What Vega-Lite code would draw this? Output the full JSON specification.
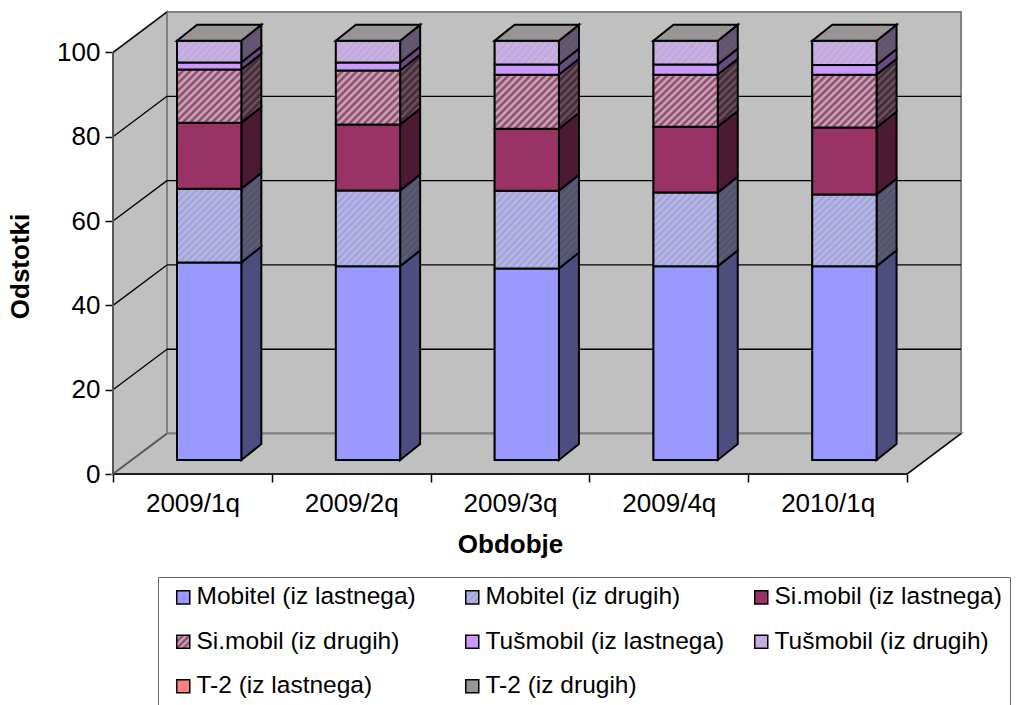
{
"$schema":"https://vega.github.io/schema/vega-lite/v6.json",
"width":849,"height":462,
"autosize":{"type":"none"},
"padding":{"left":113,"top":12,"right":59,"bottom":231},
"background":"white",
"config":{"font":"Liberation Sans","view":{"stroke":null}},
"params":[
{"name":"g","value":"#c0c0c0"},{"name":"h","value":"#606060"},
{"name":"c1","value":"#9999ff"},{"name":"c2","value":"#993366"},{"name":"c3","value":"#cc99ff"},
{"name":"d1","value":"#4d4d80"},{"name":"d2","value":"#4d1a33"},{"name":"d3","value":"#664d80"},
{"name":"rFront","expr":"[c1,{gradient:'linear',x1:0,y1:0,x2:.92,y2:1.07,stops:[{offset:0,color:c1},{offset:.025,color:g},{offset:.05,color:c1},{offset:.075,color:g},{offset:.1,color:c1},{offset:.125,color:g},{offset:.15,color:c1},{offset:.175,color:g},{offset:.2,color:c1},{offset:.225,color:g},{offset:.25,color:c1},{offset:.275,color:g},{offset:.3,color:c1},{offset:.325,color:g},{offset:.35,color:c1},{offset:.375,color:g},{offset:.4,color:c1},{offset:.425,color:g},{offset:.45,color:c1},{offset:.475,color:g},{offset:.5,color:c1},{offset:.525,color:g},{offset:.55,color:c1},{offset:.575,color:g},{offset:.6,color:c1},{offset:.625,color:g},{offset:.65,color:c1},{offset:.675,color:g},{offset:.7,color:c1},{offset:.725,color:g},{offset:.75,color:c1},{offset:.775,color:g},{offset:.8,color:c1},{offset:.825,color:g},{offset:.85,color:c1},{offset:.875,color:g},{offset:.9,color:c1},{offset:.925,color:g},{offset:.95,color:c1},{offset:.975,color:g},{offset:1,color:c1}]},c2,{gradient:'linear',x1:0,y1:0,x2:1.08,y2:.9,stops:[{offset:0,color:c2},{offset:.03125,color:g},{offset:.0625,color:c2},{offset:.09375,color:g},{offset:.125,color:c2},{offset:.15625,color:g},{offset:.1875,color:c2},{offset:.21875,color:g},{offset:.25,color:c2},{offset:.28125,color:g},{offset:.3125,color:c2},{offset:.34375,color:g},{offset:.375,color:c2},{offset:.40625,color:g},{offset:.4375,color:c2},{offset:.46875,color:g},{offset:.5,color:c2},{offset:.53125,color:g},{offset:.5625,color:c2},{offset:.59375,color:g},{offset:.625,color:c2},{offset:.65625,color:g},{offset:.6875,color:c2},{offset:.71875,color:g},{offset:.75,color:c2},{offset:.78125,color:g},{offset:.8125,color:c2},{offset:.84375,color:g},{offset:.875,color:c2},{offset:.90625,color:g},{offset:.9375,color:c2},{offset:.96875,color:g},{offset:1,color:c2}]},c3,{gradient:'linear',x1:0,y1:0,x2:1.2,y2:.41,stops:[{offset:0,color:c3},{offset:.04167,color:g},{offset:.08333,color:c3},{offset:.125,color:g},{offset:.16667,color:c3},{offset:.20833,color:g},{offset:.25,color:c3},{offset:.29167,color:g},{offset:.33333,color:c3},{offset:.375,color:g},{offset:.41667,color:c3},{offset:.45833,color:g},{offset:.5,color:c3},{offset:.54167,color:g},{offset:.58333,color:c3},{offset:.625,color:g},{offset:.66667,color:c3},{offset:.70833,color:g},{offset:.75,color:c3},{offset:.79167,color:g},{offset:.83333,color:c3},{offset:.875,color:g},{offset:.91667,color:c3},{offset:.95833,color:g},{offset:1,color:c3}]},'#ff8080','#969696']"},
{"name":"rSide","expr":"[d1,{gradient:'linear',x1:0,y1:0,x2:.26,y2:1.16,stops:[{offset:0,color:d1},{offset:.03125,color:h},{offset:.0625,color:d1},{offset:.09375,color:h},{offset:.125,color:d1},{offset:.15625,color:h},{offset:.1875,color:d1},{offset:.21875,color:h},{offset:.25,color:d1},{offset:.28125,color:h},{offset:.3125,color:d1},{offset:.34375,color:h},{offset:.375,color:d1},{offset:.40625,color:h},{offset:.4375,color:d1},{offset:.46875,color:h},{offset:.5,color:d1},{offset:.53125,color:h},{offset:.5625,color:d1},{offset:.59375,color:h},{offset:.625,color:d1},{offset:.65625,color:h},{offset:.6875,color:d1},{offset:.71875,color:h},{offset:.75,color:d1},{offset:.78125,color:h},{offset:.8125,color:d1},{offset:.84375,color:h},{offset:.875,color:d1},{offset:.90625,color:h},{offset:.9375,color:d1},{offset:.96875,color:h},{offset:1,color:d1}]},d2,{gradient:'linear',x1:0,y1:0,x2:.345,y2:1.19,stops:[{offset:0,color:d2},{offset:.04167,color:h},{offset:.08333,color:d2},{offset:.125,color:h},{offset:.16667,color:d2},{offset:.20833,color:h},{offset:.25,color:d2},{offset:.29167,color:h},{offset:.33333,color:d2},{offset:.375,color:h},{offset:.41667,color:d2},{offset:.45833,color:h},{offset:.5,color:d2},{offset:.54167,color:h},{offset:.58333,color:d2},{offset:.625,color:h},{offset:.66667,color:d2},{offset:.70833,color:h},{offset:.75,color:d2},{offset:.79167,color:h},{offset:.83333,color:d2},{offset:.875,color:h},{offset:.91667,color:d2},{offset:.95833,color:h},{offset:1,color:d2}]},d3,{gradient:'linear',x1:0,y1:0,x2:.63,y2:1.195,stops:[{offset:0,color:d3},{offset:.0625,color:h},{offset:.125,color:d3},{offset:.1875,color:h},{offset:.25,color:d3},{offset:.3125,color:h},{offset:.375,color:d3},{offset:.4375,color:h},{offset:.5,color:d3},{offset:.5625,color:h},{offset:.625,color:d3},{offset:.6875,color:h},{offset:.75,color:d3},{offset:.8125,color:h},{offset:.875,color:d3},{offset:.9375,color:h},{offset:1,color:d3}]},'#804040','#4b4b4b']"},
{"name":"rLegend","expr":"[c1,{gradient:'linear',x1:0,y1:0,x2:1,y2:1,stops:[{offset:0,color:c1},{offset:.125,color:g},{offset:.25,color:c1},{offset:.375,color:g},{offset:.5,color:c1},{offset:.625,color:g},{offset:.75,color:c1},{offset:.875,color:g},{offset:1,color:c1}]},c2,{gradient:'linear',x1:0,y1:0,x2:1,y2:1,stops:[{offset:0,color:c2},{offset:.125,color:g},{offset:.25,color:c2},{offset:.375,color:g},{offset:.5,color:c2},{offset:.625,color:g},{offset:.75,color:c2},{offset:.875,color:g},{offset:1,color:c2}]},c3,{gradient:'linear',x1:0,y1:0,x2:1,y2:1,stops:[{offset:0,color:c3},{offset:.125,color:g},{offset:.25,color:c3},{offset:.375,color:g},{offset:.5,color:c3},{offset:.625,color:g},{offset:.75,color:c3},{offset:.875,color:g},{offset:1,color:c3}]},'#ff8080','#969696']"}
],
"datasets":{"bars":[
{"period":"2009/1q","series":"Mobitel (iz lastnega)","value":47.1},{"period":"2009/1q","series":"Mobitel (iz drugih)","value":17.6},{"period":"2009/1q","series":"Si.mobil (iz lastnega)","value":15.7},{"period":"2009/1q","series":"Si.mobil (iz drugih)","value":12.7},{"period":"2009/1q","series":"Tušmobil (iz lastnega)","value":1.7},{"period":"2009/1q","series":"Tušmobil (iz drugih)","value":5.2},{"period":"2009/1q","series":"T-2 (iz lastnega)","value":0},{"period":"2009/1q","series":"T-2 (iz drugih)","value":0},
{"period":"2009/2q","series":"Mobitel (iz lastnega)","value":46.2},{"period":"2009/2q","series":"Mobitel (iz drugih)","value":18.1},{"period":"2009/2q","series":"Si.mobil (iz lastnega)","value":15.7},{"period":"2009/2q","series":"Si.mobil (iz drugih)","value":12.9},{"period":"2009/2q","series":"Tušmobil (iz lastnega)","value":1.9},{"period":"2009/2q","series":"Tušmobil (iz drugih)","value":5.2},{"period":"2009/2q","series":"T-2 (iz lastnega)","value":0},{"period":"2009/2q","series":"T-2 (iz drugih)","value":0},
{"period":"2009/3q","series":"Mobitel (iz lastnega)","value":45.7},{"period":"2009/3q","series":"Mobitel (iz drugih)","value":18.5},{"period":"2009/3q","series":"Si.mobil (iz lastnega)","value":14.8},{"period":"2009/3q","series":"Si.mobil (iz drugih)","value":12.9},{"period":"2009/3q","series":"Tušmobil (iz lastnega)","value":2.4},{"period":"2009/3q","series":"Tušmobil (iz drugih)","value":5.7},{"period":"2009/3q","series":"T-2 (iz lastnega)","value":0},{"period":"2009/3q","series":"T-2 (iz drugih)","value":0},
{"period":"2009/4q","series":"Mobitel (iz lastnega)","value":46.2},{"period":"2009/4q","series":"Mobitel (iz drugih)","value":17.6},{"period":"2009/4q","series":"Si.mobil (iz lastnega)","value":15.7},{"period":"2009/4q","series":"Si.mobil (iz drugih)","value":12.4},{"period":"2009/4q","series":"Tušmobil (iz lastnega)","value":2.4},{"period":"2009/4q","series":"Tušmobil (iz drugih)","value":5.7},{"period":"2009/4q","series":"T-2 (iz lastnega)","value":0},{"period":"2009/4q","series":"T-2 (iz drugih)","value":0},
{"period":"2010/1q","series":"Mobitel (iz lastnega)","value":46.2},{"period":"2010/1q","series":"Mobitel (iz drugih)","value":17.1},{"period":"2010/1q","series":"Si.mobil (iz lastnega)","value":16.0},{"period":"2010/1q","series":"Si.mobil (iz drugih)","value":12.6},{"period":"2010/1q","series":"Tušmobil (iz lastnega)","value":2.3},{"period":"2010/1q","series":"Tušmobil (iz drugih)","value":5.8},{"period":"2010/1q","series":"T-2 (iz lastnega)","value":0},{"period":"2010/1q","series":"T-2 (iz drugih)","value":0}
]},
"encoding":{
"x":{"field":"x","type":"quantitative","scale":{"domain":[0,5.346],"nice":false,"zero":false},
"axis":{"values":[0,1,2,3,4,5],"labelExpr":"['2009/1q','2009/2q','2009/3q','2009/4q','2010/1q',''][datum.value]","labelOffset":79.4,"labelFontSize":26,"labelFlush":false,"labelBound":false,"labelOverlap":false,"labelPadding":8,"labelColor":"black","tickSize":8,"tickColor":"black","tickWidth":1.5,"domain":false,"grid":false,"title":"Obdobje","titleFontSize":26,"titleFontWeight":"bold","titleColor":"black","titleX":397,"titleY":57}},
"y":{"field":"y","type":"quantitative","scale":{"domain":[0,109.6],"nice":false,"zero":false},
"axis":{"values":[0,20,40,60,80,100],"labelFontSize":26,"labelPadding":5,"labelColor":"black","tickSize":8,"tickColor":"black","tickWidth":1.5,"domain":false,"grid":false,"title":"Odstotki","titleFontSize":26,"titleFontWeight":"bold","titleColor":"black","titleX":-80,"titleY":254}}
},
"resolve":{"scale":{"fill":"independent"},"legend":{"fill":"independent"}},
"layer":[
{"data":{"values":[{"d":0}]},"transform":[{"calculate":"0.34","as":"x"},{"calculate":"5.34","as":"x2"},{"calculate":"9.6","as":"y"},{"calculate":"109.6","as":"y2"}],
"mark":{"type":"rect","fill":"#c0c0c0","stroke":"#808080","strokeWidth":2},"encoding":{"x2":{"field":"x2"},"y2":{"field":"y2"}}},
{"data":{"values":[{"d":0},{"d":1}]},"transform":[{"calculate":"datum.d*0.34","as":"x"},{"calculate":"datum.d*9.6","as":"y"},{"calculate":"100+datum.d*9.6","as":"y2"}],
"mark":{"type":"area","fill":"#c0c0c0","stroke":"#808080","strokeWidth":2},"encoding":{"y2":{"field":"y2"}}},
{"data":{"values":[{"d":0},{"d":1}]},"transform":[{"calculate":"datum.d*0.34","as":"x"},{"calculate":"5+datum.d*0.34","as":"x2"},{"calculate":"datum.d*9.6","as":"y"}],
"mark":{"type":"area","orient":"horizontal","fill":"#c0c0c0","stroke":"#808080","strokeWidth":2},"encoding":{"x2":{"field":"x2"}}},
{"data":{"values":[{"v":20},{"v":40},{"v":60},{"v":80},{"v":100}]},"transform":[{"calculate":"0","as":"x"},{"calculate":"0.34","as":"x2"},{"calculate":"datum.v","as":"y"},{"calculate":"datum.v+9.6","as":"y2"}],
"mark":{"type":"rule","stroke":"black","strokeWidth":1.3},"encoding":{"x2":{"field":"x2"},"y2":{"field":"y2"}}},
{"data":{"values":[{"v":20},{"v":40},{"v":60},{"v":80}]},"transform":[{"calculate":"0.34","as":"x"},{"calculate":"5.34","as":"x2"},{"calculate":"datum.v+9.6","as":"y"}],
"mark":{"type":"rule","stroke":"black","strokeWidth":1.3},"encoding":{"x2":{"field":"x2"}}},
{"data":{"values":[{"d":0}]},"transform":[{"calculate":"0","as":"x"},{"calculate":"0","as":"y"},{"calculate":"100","as":"y2"}],
"mark":{"type":"rule","stroke":"#555555","strokeWidth":2},"encoding":{"y2":{"field":"y2"}}},
{"data":{"values":[{"d":0}]},"transform":[{"calculate":"0","as":"x"},{"calculate":"5","as":"x2"},{"calculate":"0","as":"y"}],
"mark":{"type":"rule","stroke":"black","strokeWidth":1.5},"encoding":{"x2":{"field":"x2"}}},
{"data":{"values":[{"d":0}]},"transform":[{"calculate":"5","as":"x"},{"calculate":"5.34","as":"x2"},{"calculate":"0","as":"y"},{"calculate":"9.6","as":"y2"}],
"mark":{"type":"rule","stroke":"black","strokeWidth":1.3},"encoding":{"x2":{"field":"x2"},"y2":{"field":"y2"}}},
{"data":{"values":[{"d":0}]},"transform":[{"calculate":"0","as":"x"},{"calculate":"0.34","as":"x2"},{"calculate":"0","as":"y"},{"calculate":"9.6","as":"y2"}],
"mark":{"type":"rule","stroke":"#555555","strokeWidth":1.5},"encoding":{"x2":{"field":"x2"},"y2":{"field":"y2"}}},

{"data":{"name":"bars"},"transform":[{"stack":"value","groupby":["period"],"as":["s0","s1"]},{"calculate":"indexof(['2009/1q','2009/2q','2009/3q','2009/4q','2010/1q'],datum.period)","as":"i"},{"calculate":"datum.i+0.403","as":"x"},{"calculate":"datum.i+0.808","as":"x2"},{"calculate":"3.3+0.995*datum.s0","as":"y"},{"calculate":"3.3+0.995*datum.s1","as":"y2"}],
"mark":{"type":"rect","stroke":"black","strokeWidth":1.5},
"encoding":{"x2":{"field":"x2"},"y2":{"field":"y2"},
"fill":{"field":"series","type":"nominal","scale":{"domain":["Mobitel (iz lastnega)","Mobitel (iz drugih)","Si.mobil (iz lastnega)","Si.mobil (iz drugih)","Tušmobil (iz lastnega)","Tušmobil (iz drugih)","T-2 (iz lastnega)","T-2 (iz drugih)"],"range":[{"signal":"rLegend[0]"},{"signal":"rLegend[1]"},{"signal":"rLegend[2]"},{"signal":"rLegend[3]"},{"signal":"rLegend[4]"},{"signal":"rLegend[5]"},{"signal":"rLegend[6]"},{"signal":"rLegend[7]"}]},
"legend":{"orient":"none","legendX":45,"legendY":565,"columns":3,"direction":"horizontal","gridAlign":"all","title":null,"symbolType":"square","symbolSize":170,"symbolStrokeColor":"black","symbolStrokeWidth":1.5,"symbolOffset":5,"labelFontSize":24.5,"labelColor":"black","labelLimit":400,"labelOffset":1,"rowPadding":19.5,"columnPadding":19,"padding":8,"strokeColor":"#666666","fillColor":"white"}}}},

{"data":{"name":"bars"},"transform":[{"stack":"value","groupby":["period"],"as":["s0","s1"]},{"filter":"datum.value>0"},{"calculate":"indexof(['2009/1q','2009/2q','2009/3q','2009/4q','2010/1q'],datum.period)","as":"i"},{"calculate":"[0,1]","as":"d"},{"flatten":["d"]},{"calculate":"datum.i+0.808+datum.d*0.126","as":"x"},{"calculate":"3.3+0.995*datum.s0+datum.d*3.79","as":"y"},{"calculate":"3.3+0.995*datum.s1+datum.d*3.79","as":"y2"}],
"mark":{"type":"area","stroke":"black","strokeWidth":2},
"encoding":{"y2":{"field":"y2"},"detail":{"field":"period"},
"fill":{"field":"series","type":"nominal","legend":null,"scale":{"domain":["Mobitel (iz lastnega)","Mobitel (iz drugih)","Si.mobil (iz lastnega)","Si.mobil (iz drugih)","Tušmobil (iz lastnega)","Tušmobil (iz drugih)","T-2 (iz lastnega)","T-2 (iz drugih)"],"range":[{"signal":"rSide[0]"},{"signal":"rSide[1]"},{"signal":"rSide[2]"},{"signal":"rSide[3]"},{"signal":"rSide[4]"},{"signal":"rSide[5]"},{"signal":"rSide[6]"},{"signal":"rSide[7]"}]}}}},

{"data":{"name":"bars"},"transform":[{"stack":"value","groupby":["period"],"as":["s0","s1"]},{"filter":"datum.value>0"},{"calculate":"indexof(['2009/1q','2009/2q','2009/3q','2009/4q','2010/1q'],datum.period)","as":"i"},{"calculate":"datum.i+0.403","as":"x"},{"calculate":"datum.i+0.808","as":"x2"},{"calculate":"3.3+0.995*datum.s0","as":"y"},{"calculate":"3.3+0.995*datum.s1","as":"y2"}],
"mark":{"type":"rect","stroke":"black","strokeWidth":2},
"encoding":{"x2":{"field":"x2"},"y2":{"field":"y2"},
"fill":{"field":"series","type":"nominal","legend":null,"scale":{"domain":["Mobitel (iz lastnega)","Mobitel (iz drugih)","Si.mobil (iz lastnega)","Si.mobil (iz drugih)","Tušmobil (iz lastnega)","Tušmobil (iz drugih)","T-2 (iz lastnega)","T-2 (iz drugih)"],"range":[{"signal":"rFront[0]"},{"signal":"rFront[1]"},{"signal":"rFront[2]"},{"signal":"rFront[3]"},{"signal":"rFront[4]"},{"signal":"rFront[5]"},{"signal":"rFront[6]"},{"signal":"rFront[7]"}]}}}},

{"data":{"name":"bars"},"transform":[{"stack":"value","groupby":["period"],"as":["s0","s1"]},{"filter":"datum.series==='T-2 (iz drugih)'"},{"calculate":"indexof(['2009/1q','2009/2q','2009/3q','2009/4q','2010/1q'],datum.period)","as":"i"},{"calculate":"[0,1]","as":"d"},{"flatten":["d"]},{"calculate":"datum.i+0.403+datum.d*0.126","as":"x"},{"calculate":"datum.i+0.808+datum.d*0.126","as":"x2"},{"calculate":"3.3+0.995*datum.s1+datum.d*3.79","as":"y"}],
"mark":{"type":"area","orient":"horizontal","fill":"#969696","stroke":"black","strokeWidth":2},
"encoding":{"x2":{"field":"x2"},"detail":{"field":"period"}}},

{"data":{"name":"bars"},"transform":[{"stack":"value","groupby":["period"],"as":["s0","s1"]},{"filter":"datum.series==='T-2 (iz drugih)'"},{"calculate":"indexof(['2009/1q','2009/2q','2009/3q','2009/4q','2010/1q'],datum.period)","as":"i"},{"calculate":"[[0.139,2.84],[0.239,2.84],[0.327,2.84],[0.422,2.84],[0.088,1.18],[0.189,1.18],[0.283,1.18],[0.378,1.18]]","as":"dots"},{"flatten":["dots"]},{"calculate":"datum.i+0.403+datum.dots[0]","as":"x"},{"calculate":"3.3+0.995*datum.s1+datum.dots[1]","as":"y"}],
"mark":{"type":"point","filled":true,"color":"#e07070","size":4,"opacity":1},"encoding":{}}
]
}
